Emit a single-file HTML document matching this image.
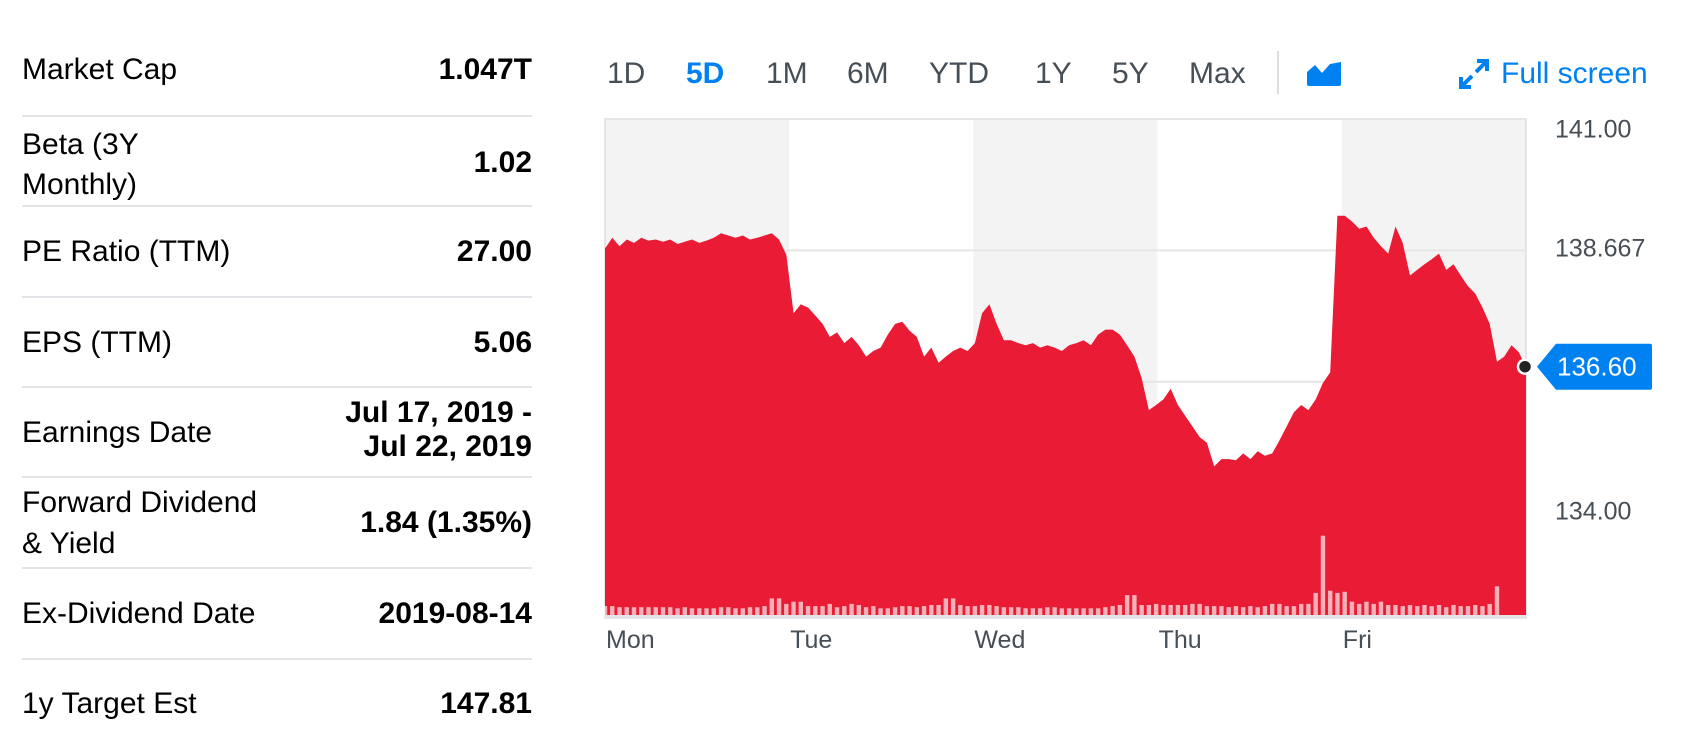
<!DOCTYPE html>
<html><head><meta charset="utf-8">
<style>
body{margin:0;width:1685px;height:746px;background:#fff;font-family:"Liberation Sans",Arial,sans-serif;overflow:hidden;position:relative}
.row{position:absolute;left:22px;width:510px;border-bottom:2px solid #e3e4e8;}
.lbl{position:absolute;left:0;font-size:30px;color:#000;line-height:40px}
.val{position:absolute;right:0;font-size:30px;font-weight:bold;color:#000;text-align:right;line-height:36px}
.btn{position:absolute;top:54px;font-size:30px;color:#464e56;line-height:40px}
.yl{position:absolute;left:1555px;font-size:25px;color:#464e56;transform:translateY(-50%)}
.dl{position:absolute;top:626px;font-size:25px;color:#464e56}
</style></head><body>
<div>
<div class="row" style="top:0;height:115px"><span class="lbl" style="top:50px">Market Cap</span><span class="val" style="top:52px">1.047T</span></div>
<div class="row" style="top:117px;height:88px"><span class="lbl" style="top:8px;line-height:40px">Beta (3Y<br>Monthly)</span><span class="val" style="top:28px">1.02</span></div>
<div class="row" style="top:207px;height:89px"><span class="lbl" style="top:25px">PE Ratio (TTM)</span><span class="val" style="top:27px">27.00</span></div>
<div class="row" style="top:298px;height:88px"><span class="lbl" style="top:25px">EPS (TTM)</span><span class="val" style="top:27px">5.06</span></div>
<div class="row" style="top:388px;height:88px"><span class="lbl" style="top:25px">Earnings Date</span><span class="val" style="top:8px;line-height:34px">Jul 17, 2019 -<br>Jul 22, 2019</span></div>
<div class="row" style="top:478px;height:89px"><span class="lbl" style="top:4px;line-height:41px">Forward Dividend<br>&amp; Yield</span><span class="val" style="top:27px">1.84 (1.35%)</span></div>
<div class="row" style="top:569px;height:89px"><span class="lbl" style="top:25px">Ex-Dividend Date</span><span class="val" style="top:27px">2019-08-14</span></div>
<div class="row" style="top:660px;height:80px;border:none"><span class="lbl" style="top:24px">1y Target Est</span><span class="val" style="top:26px">147.81</span></div>
</div>

<span class="btn" style="left:607px">1D</span>
<span class="btn" style="left:686px;color:#0081f2;font-weight:bold">5D</span>
<span class="btn" style="left:766px">1M</span>
<span class="btn" style="left:847px">6M</span>
<span class="btn" style="left:929px">YTD</span>
<span class="btn" style="left:1035px">1Y</span>
<span class="btn" style="left:1112px">5Y</span>
<span class="btn" style="left:1189px">Max</span>
<div style="position:absolute;left:1277px;top:51px;width:2px;height:43px;background:#dcdde1"></div>
<svg style="position:absolute;left:1307px;top:62px" width="34" height="24" viewBox="0 0 34 24"><path d="M0 10 L8 3 L15 11 L23 2 L34 0 L34 22 Q34 24 32 24 L2 24 Q0 24 0 22 Z" fill="#0081f2"/></svg>
<svg style="position:absolute;left:1458px;top:58px" width="32" height="32" viewBox="0 0 32 32"><g stroke="#0081f2" stroke-width="4" fill="none"><path d="M18 14 L29 3"/><path d="M19 3 H29 V13"/><path d="M14 18 L3 29"/><path d="M3 19 V29 H13"/></g></svg>
<span class="btn" style="left:1501px;color:#0081f2">Full screen</span>

<svg id="chart" style="position:absolute;left:0;top:0" width="1685" height="746"></svg>
<div id="labels"></div>

<script>
const days=["Mon","Tue","Wed","Thu","Fri"];
const yTicks=[141.00,138.667,136.333,134.00];
const yTickLabels=["141.00","138.667","","134.00"];
const lastPriceLabel="136.60";
const prices=[
138.70,138.89,138.74,138.86,138.80,138.89,138.84,138.86,138.82,138.86,138.78,138.82,138.86,138.80,138.84,138.89,138.97,138.93,138.89,138.93,138.86,138.89,138.93,138.97,138.86,138.59,
137.55,137.71,137.65,137.51,137.36,137.13,137.21,137.02,137.13,136.98,136.78,136.88,136.94,137.17,137.36,137.40,137.24,137.13,136.78,136.94,136.67,136.78,136.88,136.94,136.88,137.02,
137.55,137.71,137.36,137.07,137.07,137.02,136.98,137.02,136.94,136.98,136.94,136.88,136.98,137.02,137.07,136.98,137.17,137.26,137.26,137.17,136.98,136.78,136.40,135.83,135.92,136.02,
136.21,135.92,135.73,135.54,135.35,135.25,134.83,134.96,134.96,134.94,135.06,134.96,135.10,135.02,135.06,135.29,135.54,135.79,135.92,135.83,136.02,136.31,136.50,139.28,
139.28,139.18,139.05,139.09,138.89,138.74,138.61,139.09,138.80,138.22,138.32,138.42,138.51,138.61,138.32,138.42,138.22,138.03,137.90,137.65,137.36,136.69,136.78,136.98,136.86,136.60];
const volumes=[
9,9,8,8,8,8,8,8,8,8,7,8,7,7,7,7,8,8,7,7,8,8,9,16,16,11,
13,13,9,9,9,11,8,9,11,10,8,9,7,7,8,9,9,8,9,10,10,16,16,10,9,9,
10,10,9,8,8,8,7,7,7,8,8,7,7,7,7,7,7,8,9,10,19,19,
10,10,11,10,10,10,10,11,11,9,9,9,8,9,8,9,8,9,11,11,9,9,11,11,
21,73,23,21,22,13,11,13,11,13,10,10,9,10,9,10,9,10,8,10,9,9,10,9,11,27];

const svg=document.getElementById('chart');
const NS='http://www.w3.org/2000/svg';
const L=605,R=1526,T=119,B=618;
const dayW=(R-L)/days.length;
function xScale(i){return L+i*(R-L)/(prices.length-1);}
function yScale(v){return T+(141-v)*56.3;}
function vScale(v){return v*1.1;}
function mk(tag,attrs){const e=document.createElementNS(NS,tag);for(const k in attrs)e.setAttribute(k,attrs[k]);svg.appendChild(e);return e;}

days.forEach((d,i)=>{
  const r=mk('rect',{x:L+i*dayW,y:T,width:dayW,height:B-T,fill:i%2===0?'#f3f3f3':'#fff'});
  
  
});
const border=mk('rect',{x:L,y:T,width:R-L,height:B-T,fill:'none',stroke:'#dcdde1','stroke-width':1.5});


yTicks.forEach((v,i)=>{
  const g=mk('line',{x1:L,x2:R,y1:yScale(v),y2:yScale(v),stroke:'#e6e6e6','stroke-width':2});
  
  
});
let d='M'+xScale(0)+' '+B;
prices.forEach((p,i)=>{d+=' L'+xScale(i).toFixed(1)+' '+yScale(p).toFixed(1);});
d+=' L'+xScale(prices.length-1)+' '+B+' Z';
const area=mk('path',{d:d,fill:'#e8142e','fill-opacity':0.97});


volumes.forEach((v,i)=>{
  const h=vScale(v);
  const b=mk('rect',{x:xScale(i)-2.2,y:B-2-h,width:4.4,height:h,fill:'#fff','fill-opacity':0.65});
  
  
});
const base=mk('rect',{x:L,y:B-3,width:R-L,height:3,fill:'#e3e4e8'});


const lp=prices[prices.length-1];
const dot=mk('circle',{cx:R-1,cy:yScale(lp),r:7,fill:'#222','stroke':'#fff','stroke-width':2.5});


const ty=yScale(lp);
const tag=mk('path',{d:`M1537 ${ty} L1556 ${ty-23} L1650 ${ty-23} Q1652 ${ty-23} 1652 ${ty-21} L1652 ${ty+21} Q1652 ${ty+23} 1650 ${ty+23} L1556 ${ty+23} Z`,fill:'#0081f2'});


const tt=mk('text',{x:1557,y:ty+9,fill:'#fff','font-size':26,'font-family':'Liberation Sans, Arial, sans-serif'});
tt.textContent=lastPriceLabel;



const lab=document.getElementById('labels');
yTicks.forEach((v,i)=>{
  if(!yTickLabels[i])return;
  const s=document.createElement('span');
  s.className='yl';
  s.style.top=(i===0?yScale(v)+11:yScale(v)-1)+'px';
  s.textContent=yTickLabels[i];
  
  
  lab.appendChild(s);
});
days.forEach((dn,i)=>{
  const s=document.createElement('span');
  s.className='dl';
  s.style.left=(L+i*dayW+1)+'px';
  s.textContent=dn;
  
  
  lab.appendChild(s);
});
</script>
</body></html>
